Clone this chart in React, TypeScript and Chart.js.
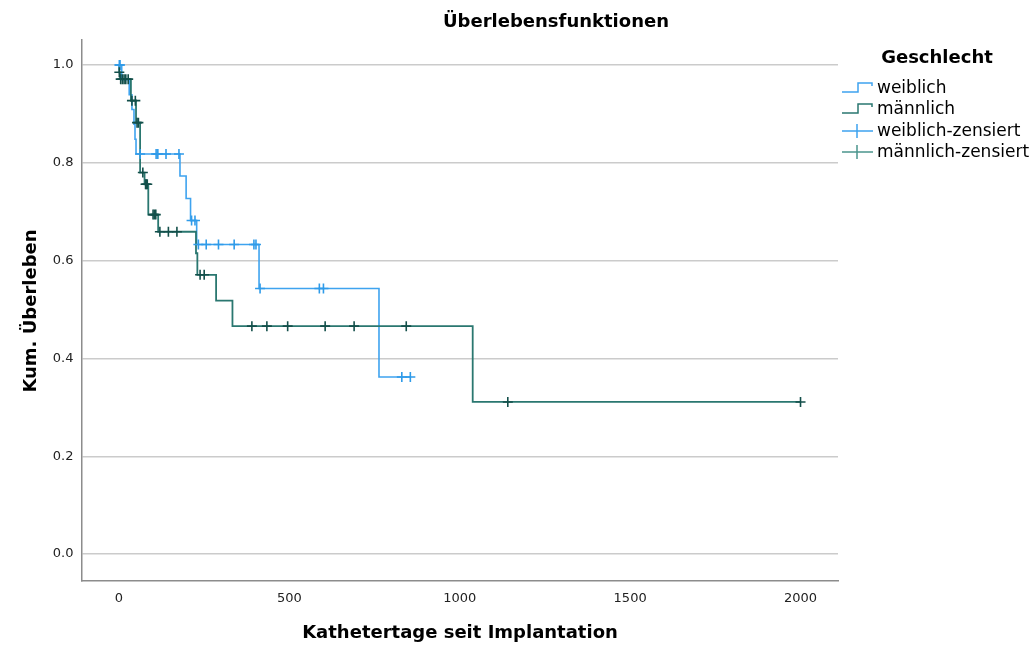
import { useEffect, useRef } from "react";
import { Chart, registerables } from "chart.js";

Chart.register(...registerables);

// ---------- data ----------
const xTickValues = [0, 500, 1000, 1500, 2000];
const yTickValues = [0, 0.2, 0.4, 0.6, 0.8, 1.0];

// Kaplan-Meier steps: weiblich
const weiblichDays = [0, 8, 30, 38, 44, 47, 50, 179, 197, 210, 228, 411, 763, 855];
const weiblichSurv = [1.0, 0.97, 0.939, 0.909, 0.879, 0.848, 0.818, 0.773, 0.727, 0.682, 0.633, 0.543, 0.362, 0.362];
const weiblichCensored = [1, 3, 62, 109, 114, 138, 176, 213, 223, 233, 256, 292, 338, 396, 402, 414, 588, 600, 830, 855];

// Kaplan-Meier steps: männlich
const maennlichDays = [0, 1, 3, 35, 50, 62, 75, 86, 115, 226, 230, 285, 333, 1038, 2000];
const maennlichSurv = [1.0, 0.985, 0.971, 0.927, 0.882, 0.78, 0.756, 0.694, 0.659, 0.615, 0.571, 0.518, 0.466, 0.311, 0.311];
const maennlichCensored = [1, 5, 10, 15, 20, 27, 38, 48, 53, 57, 70, 78, 80, 83, 100, 104, 108, 120, 145, 170, 238, 250, 390, 434, 495, 605, 690, 843, 1141, 2000];

const legendLabels = ["weiblich", "männlich", "weiblich-zensiert", "männlich-zensiert"];

// ---------- styling ----------
const BLUE = "#3ea3ef";
const BLUE_MARK = "#2f9be9";
const GREEN = "#2a7770";
const GREEN_MARK = "#134f4a";
const FONT = "'DejaVu Sans', Verdana, sans-serif";

function survAt(days: number[], surv: number[], t: number) {
  let s = surv[0];
  for (let i = 0; i < days.length; i++) {
    if (days[i] <= t) s = surv[i];
  }
  return s;
}

const decorPlugin = {
  id: "decor",
  afterDraw(chart: any) {
    const ctx = chart.ctx as CanvasRenderingContext2D;
    ctx.save();
    ctx.fillStyle = "#000";
    ctx.textBaseline = "middle";
    // title
    ctx.font = `bold 18px ${FONT}`;
    ctx.textAlign = "center";
    ctx.fillText("Überlebensfunktionen", 556, 22);
    // x axis title
    ctx.font = `bold 18px ${FONT}`;
    ctx.fillText("Kathetertage seit Implantation", 460, 633);
    // y axis title
    ctx.save();
    ctx.translate(31, 311);
    ctx.rotate(-Math.PI / 2);
    ctx.fillText("Kum. Überleben", 0, 0);
    ctx.restore();

    // legend
    ctx.font = `bold 18px ${FONT}`;
    ctx.textAlign = "center";
    ctx.fillText("Geschlecht", 937, 58);
    ctx.font = `17px ${FONT}`;
    ctx.textAlign = "left";
    const ys = [88, 109, 131, 152];
    const colors = [BLUE, GREEN, BLUE, "#4b958d"];
    ys.forEach((y, i) => {
      ctx.strokeStyle = colors[i];
      ctx.lineWidth = 1.5;
      ctx.beginPath();
      if (i < 2) {
        ctx.moveTo(842, y + 4);
        ctx.lineTo(858, y + 4);
        ctx.lineTo(858, y - 5);
        ctx.lineTo(872, y - 5);
        ctx.lineTo(872, y - 2);
      } else {
        ctx.moveTo(842, y);
        ctx.lineTo(873, y);
        ctx.moveTo(857, y - 7);
        ctx.lineTo(857, y + 7);
      }
      ctx.stroke();
      ctx.fillStyle = "#000";
      ctx.fillText(legendLabels[i], 877, y + 1);
    });
    ctx.restore();
  },
};

export default function App() {
  const canvasRef = useRef<HTMLCanvasElement | null>(null);

  useEffect(() => {
    if (!canvasRef.current) return;
    const wLine = weiblichDays.map((d, i) => ({ x: d, y: weiblichSurv[i] }));
    const mLine = maennlichDays.map((d, i) => ({ x: d, y: maennlichSurv[i] }));
    const wCens = weiblichCensored.map((d) => ({ x: d, y: survAt(weiblichDays, weiblichSurv, d) }));
    const mCens = maennlichCensored.map((d) => ({ x: d, y: survAt(maennlichDays, maennlichSurv, d) }));

    const chart = new Chart(canvasRef.current, {
      type: "line",
      data: {
        datasets: [
          {
            label: "männlich-zensiert",
            data: mCens,
            showLine: false,
            pointStyle: "cross",
            pointRadius: 5,
            pointBorderWidth: 1.6,
            borderColor: GREEN_MARK,
            backgroundColor: GREEN_MARK,
          },
          {
            label: "weiblich-zensiert",
            data: wCens,
            showLine: false,
            pointStyle: "cross",
            pointRadius: 5,
            pointBorderWidth: 1.6,
            borderColor: BLUE_MARK,
            backgroundColor: BLUE_MARK,
          },
          {
            label: "männlich",
            data: mLine,
            stepped: "before",
            borderColor: GREEN,
            borderWidth: 1.8,
            pointRadius: 0,
            fill: false,
          },
          {
            label: "weiblich",
            data: wLine,
            stepped: "before",
            borderColor: BLUE,
            borderWidth: 1.6,
            pointRadius: 0,
            fill: false,
          },
        ],
      },
      options: {
        animation: false,
        responsive: false,
        maintainAspectRatio: false,
        layout: { padding: { left: 0, top: 40, right: 197, bottom: 0 } },
        plugins: {
          legend: { display: false },
          tooltip: { enabled: false },
          title: { display: false },
        },
        scales: {
          x: {
            type: "linear",
            min: -110,
            max: 2110,
            afterBuildTicks: (s: any) => {
              s.ticks = xTickValues.map((v) => ({ value: v }));
            },
            afterFit: (s: any) => {
              s.height = 65.5;
            },
            grid: { color: "rgba(0,0,0,0)", drawTicks: false },
            border: { display: true, color: "#8c8c8c", width: 1.5 },
            ticks: {
              padding: 10,
              color: "#222",
              font: { family: FONT, size: 13 },
              maxRotation: 0,
              callback: (v: any) => String(v),
            },
          },
          y: {
            type: "linear",
            min: -0.054,
            max: 1.051,
            afterBuildTicks: (s: any) => {
              s.ticks = yTickValues.map((v) => ({ value: v }));
            },
            afterFit: (s: any) => {
              s.width = 81.5;
            },
            grid: { color: "#cbcbcb", lineWidth: 1.5, drawTicks: false },
            border: { display: true, color: "#8c8c8c", width: 1.5 },
            ticks: {
              padding: 8,
              color: "#222",
              font: { family: FONT, size: 13 },
              callback: (v: any) => Number(v).toFixed(1),
            },
          },
        },
      },
      plugins: [decorPlugin],
    });
    return () => chart.destroy();
  }, []);

  return (
    <div style={{ position: "fixed", left: 0, top: 0, width: 1035, height: 646, background: "#fff" }}>
      <canvas ref={canvasRef} width={1035} height={646} style={{ width: 1035, height: 646 }} />
    </div>
  );
}
